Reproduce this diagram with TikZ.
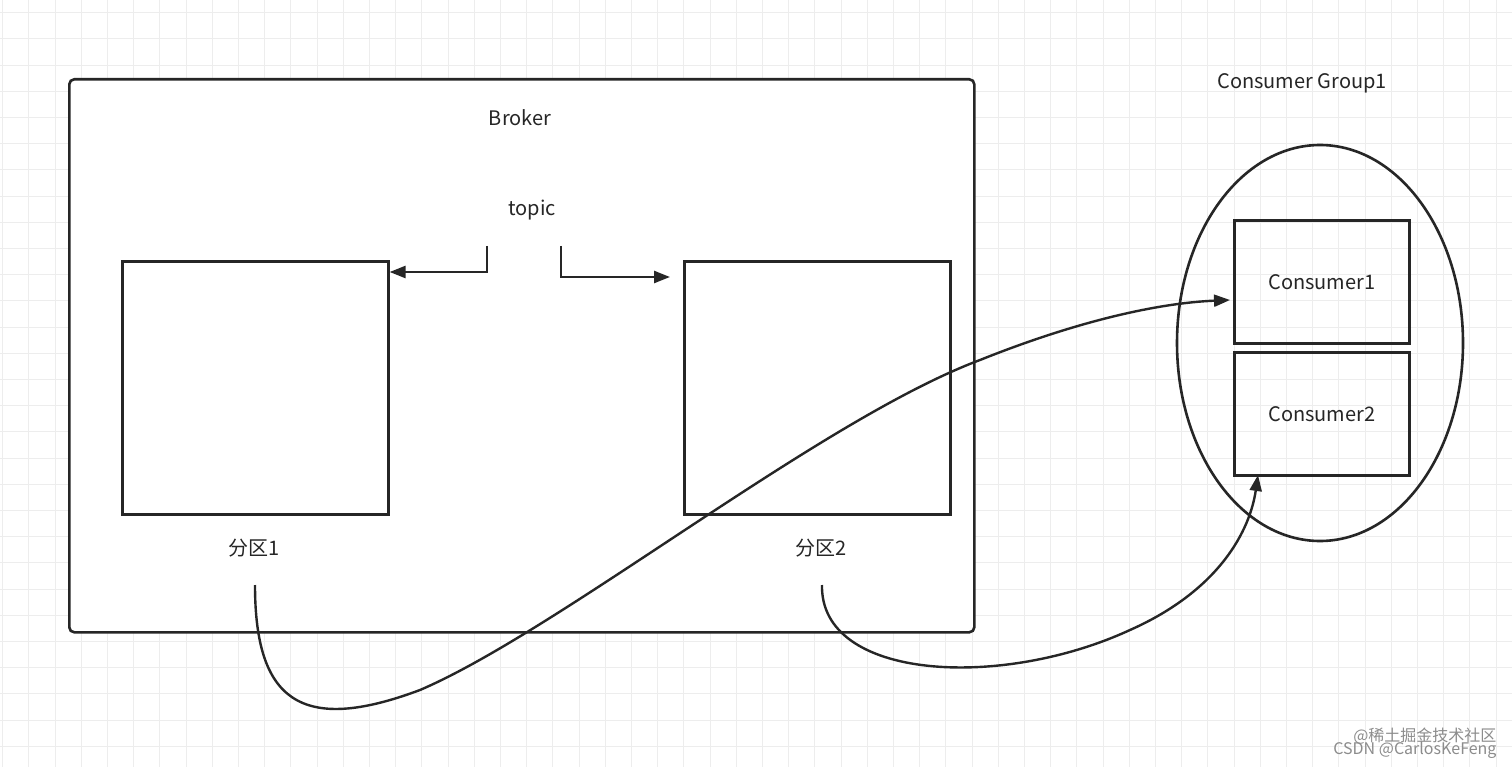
\documentclass[tikz,border=0pt]{standalone}
\usepackage{fontspec}
\setmainfont{Noto Sans CJK SC}
\usetikzlibrary{arrows.meta,shapes.geometric}
\begin{document}
\begin{tikzpicture}[x=1pt,y=-1pt,
  lbl/.style={font=\fontsize{20}{24}\selectfont, text=black!85},
  box/.style={draw=black!85, line width=2.6pt},
  conn/.style={draw=black!85, line width=2.4pt, -{Triangle[length=16pt,width=12pt]}},
  gridl/.style={draw=black!7, line width=1pt}]
\useasboundingbox (0,0) rectangle (1512,767);
\fill[white] (0,0) rectangle (1512,767);
\foreach \i in {0,...,57} {\draw[gridl] (2.7+26.2*\i,0) -- (2.7+26.2*\i,767);}
\foreach \j in {0,...,29} {\draw[gridl] (0,12.7+26.2*\j) -- (1512,12.7+26.2*\j);}
\node[box, rounded corners=5pt, fill=white, minimum width=905pt, minimum height=553pt, anchor=north west] (broker) at (68,78) {};
\node[lbl] (brokerlbl) at (520,118) {Broker};
\node[lbl] (topic) at (532,210) {topic};
\node[box, minimum width=266pt, minimum height=253pt, anchor=north west] (p1) at (121,260) {};
\node[box, minimum width=266pt, minimum height=253pt, anchor=north west] (p2) at (683,260) {};
\node[lbl] (p1l) at (254,548) {分区1};
\node[lbl] (p2l) at (821,548) {分区2};
\coordinate (t1) at (487,246);
\coordinate (t2) at (561,246);
\draw[conn] (t1) |- (p1.north east |- 0,272);
\draw[conn] (t2) |- (670,277);
\node[draw=black!85, line width=2.6pt, ellipse, minimum width=286pt, minimum height=396pt] (grp) at (1320,343) {};
\node[lbl] (grpl) at (1302,83) {Consumer Group1};
\node[box, minimum width=175pt, minimum height=123pt, anchor=north west] (c1) at (1233,219) {};
\node[box, minimum width=175pt, minimum height=123pt, anchor=north west] (c2) at (1233,351) {};
\node[lbl] at (c1.center) {Consumer1};
\node[lbl] at (c2.center) {Consumer2};
\coordinate (s1) at (255,585);
\coordinate (s2) at (822,585);
\draw[conn] (s1) .. controls (255,700) and (300,735) .. (420,690)
  .. controls (560,630) and (820,420) .. (980,360)
  .. controls (1080,320) and (1160,303) .. (1230,300);
\draw[conn] (s2) .. controls (820,680) and (1000,690) .. (1130,630)
  .. controls (1220,590) and (1250,530) .. (1258,475);
\node[font=\fontsize{16}{17}\selectfont, text=black!45, anchor=north east, align=right] (wm) at (1500,724) {@稀土掘金技术社区\\[-4pt]CSDN @CarlosKeFeng};
\end{tikzpicture}
\end{document}
